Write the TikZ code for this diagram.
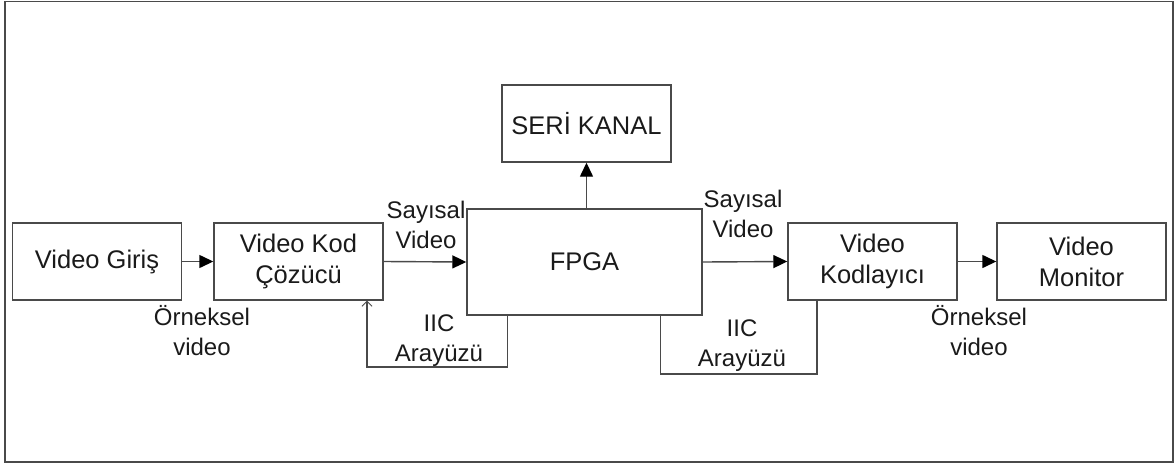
\documentclass[tikz,border=0pt]{standalone}
\usepackage{fontspec}
\setmainfont{Liberation Sans}
\usetikzlibrary{arrows.meta,calc}

\definecolor{edge}{HTML}{4A4A4A}
\definecolor{ink}{HTML}{1A1A1A}

\tikzset{
  block/.style={draw=edge, line width=1.4pt, rectangle, inner sep=0pt,
    minimum width=169pt, minimum height=77pt, align=center,
    font=\fontsize{25.5}{31}\selectfont, text=ink},
  lbl/.style={align=center, inner sep=0pt, anchor=base,
    font=\fontsize{24}{30}\selectfont, text=ink},
  wire/.style={draw=edge, line width=1.4pt},
  flow/.style={wire, -{Triangle[length=14pt,width=13pt,color=black]}},
  ctrl/.style={wire, -{Straight Barb[length=5pt,width=10pt,line width=0.9pt]}},
}

\begin{document}
\begin{tikzpicture}[x=1pt, y=-1pt]
  \useasboundingbox (0,0) rectangle (1176,464);
  % outer frame
  \draw[edge, line width=1.8pt] (5,1.5) rectangle (1173,462);

  % blocks
  \node[block] (giris) at (97,261.5) {Video Giriş};
  \node[block] (cozucu) at (298.5,261.5) {Video Kod\\Çözücü};
  \node[block, minimum width=235pt, minimum height=106pt] (fpga) at (584.5,262) {FPGA};
  \node[block] (seri) at (586.5,123.5) {SERİ KANAL};
  \node[block] (kodlayici) at (872.5,261.5) {Video\\Kodlayıcı};
  \node[block] (monitor) at (1081.5,261.5) {Video\\Monitor};

  % video path
  \draw[flow] (giris.east) -- (cozucu.west);
  \draw[flow] (cozucu.east) -- (fpga.west);
  \draw[flow] (fpga.east) -- (kodlayici.west);
  \draw[flow] (kodlayici.east) -- (monitor.west);
  \draw[flow] (seri.south |- fpga.north) -- (seri.south);

  % IIC control loops
  \coordinate (iicl) at (367,367);
  \coordinate (iicr) at (817,374);
  \draw[ctrl] ($(fpga.south west)+(41,0)$) |- (iicl) -- (iicl |- cozucu.south);
  \draw[wire] ($(fpga.south east)+(-42,0)$) |- (iicr) -- (iicr |- kodlayici.south);

  % signal labels (anchored at the baseline of the second line)
  \node[lbl] (sv1) at (426,248) {Sayısal\\Video};
  \node[lbl] (ov1) at (202,355) {Örneksel\\video};
  \node[lbl] (iic1) at (439,361) {IIC\\Arayüzü};
  \node[lbl] (sv2) at (743,237) {Sayısal\\Video};
  \node[lbl] (iic2) at (742,366) {IIC\\Arayüzü};
  \node[lbl] (ov2) at (979,355) {Örneksel\\video};
\end{tikzpicture}
\end{document}
